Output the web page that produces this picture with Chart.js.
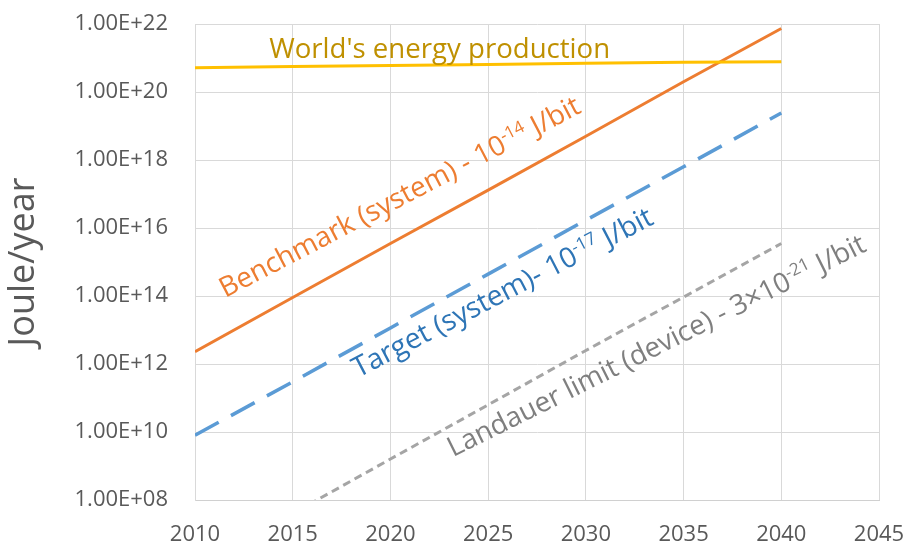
<!DOCTYPE html>
<html>
<head>
<meta charset="utf-8">
<script src="https://cdn.jsdelivr.net/npm/chart.js@4/dist/chart.umd.min.js"></script>
<style>
  html, body { margin: 0; padding: 0; background: #fff; }
  #wrap { width: 918px; height: 558px; }
</style>
</head>
<body>
<div id="wrap"><canvas id="chart" width="918" height="558"></canvas></div>
<script>
// values (Joule/year, log scale)
const years = [2010, 2015, 2020, 2025, 2030, 2035, 2040];
const worldEnergy = [5.2e20, 5.6e20, 6.0e20, 6.4e20, 7.0e20, 7.5e20, 7.8e20];
const benchmark = [2.3e12, 9.0e13, 3.5e15, 1.3e17, 5.0e18, 2.0e20, 7.4e21];
const target = [8.0e9, 3.0e11, 1.15e13, 4.4e14, 1.7e16, 6.3e17, 2.4e19];
const landauer = [1.1e6, 4.0e7, 1.6e9, 6.3e10, 2.5e12, 9.3e13, 3.5e15];

const yTicks = [1e8, 1e10, 1e12, 1e14, 1e16, 1e18, 1e20, 1e22];
const xTicks = [2010, 2015, 2020, 2025, 2030, 2035, 2040, 2045];

// in-plot labels (anchored in data units, text fitted to a width)
const notes = [
    { parts: [{ text: "World's energy production" }],
      x: 2013.8, y: 1e21, width: 341, angle: 0, color: '#BF9000' },
    { parts: [{ text: 'Benchmark (system) - 10' }, { text: '-14', sup: true }, { text: ' J/bit' }],
      x: 2011.55, y: 8.7e13, width: 403, angle: 27.5, color: '#ED7D31' },
    { parts: [{ text: 'Target (system)- 10' }, { text: '-17', sup: true }, { text: ' J/bit' }],
      x: 2018.35, y: 3.9e11, width: 335, angle: 27.5, color: '#2E75B6' },
    { parts: [{ text: 'Landauer limit (device) - 3\u00D710' }, { text: '-21', sup: true }, { text: ' J/bit' }],
      x: 2023.2, y: 1.8e9, width: 464, angle: 26.5, color: '#7F7F7F' }
];

const FONT = '"Open Sans", "Noto Sans", sans-serif';

function sciLabel(v) {
    const e = Math.round(Math.log10(v));
    const m = v / Math.pow(10, e);
    return m.toFixed(2) + 'E+' + String(e).padStart(2, '0');
}

function pairs(ys) {
    return years.map((yr, i) => ({ x: yr, y: ys[i] }));
}

const notesPlugin = {
    id: 'notes',
    afterDatasetsDraw(chart) {
        const ctx = chart.ctx;
        const xs = chart.scales.x, ys = chart.scales.y;
        notes.forEach(n => {
            const base = 24;
            const widthAt = s => n.parts.reduce((w, p) => {
                ctx.font = (p.sup ? s * 0.62 : s) + 'px ' + FONT;
                return w + ctx.measureText(p.text).width;
            }, 0);
            const s = base * n.width / widthAt(base);
            ctx.save();
            ctx.translate(xs.getPixelForValue(n.x), ys.getPixelForValue(n.y));
            ctx.rotate(-n.angle * Math.PI / 180);
            ctx.fillStyle = n.color;
            ctx.textAlign = 'left';
            ctx.textBaseline = 'alphabetic';
            let cx = 0;
            n.parts.forEach(p => {
                const fs = p.sup ? s * 0.62 : s;
                ctx.font = fs + 'px ' + FONT;
                ctx.fillText(p.text, cx, p.sup ? -s * 0.36 : 0);
                cx += ctx.measureText(p.text).width;
            });
            ctx.restore();
        });
    }
};

const ctx = document.getElementById('chart').getContext('2d');
new Chart(ctx, {
    type: 'line',
    data: {
        datasets: [
            {
                label: "World's energy production",
                data: pairs(worldEnergy),
                borderColor: '#FFC000',
                borderWidth: 3
            },
            {
                label: 'Benchmark (system)',
                data: pairs(benchmark),
                borderColor: '#ED7D31',
                borderWidth: 3
            },
            {
                label: 'Target (system)',
                data: pairs(target),
                borderColor: '#5B9BD5',
                borderWidth: 3.5,
                borderDash: [27, 14]
            },
            {
                label: 'Landauer limit (device)',
                data: pairs(landauer),
                borderColor: '#A5A5A5',
                borderWidth: 3,
                borderDash: [8, 5]
            }
        ]
    },
    options: {
        responsive: false,
        animation: false,
        layout: { padding: { left: 0, right: 39, top: 24, bottom: 0 } },
        elements: { point: { radius: 0 }, line: { tension: 0, borderCapStyle: 'butt' } },
        plugins: {
            legend: { display: false },
            tooltip: { enabled: false }
        },
        scales: {
            x: {
                type: 'linear',
                min: 2010,
                max: 2045,
                afterBuildTicks: scale => { scale.ticks = xTicks.map(v => ({ value: v })); },
                afterFit: scale => {
                    scale.height = 58;
                    scale.paddingLeft = 0;
                    scale.paddingRight = 0;
                },
                grid: { color: '#D9D9D9', lineWidth: 1, drawTicks: false },
                border: { color: '#D0D0D0', width: 1 },
                ticks: {
                    padding: 22,
                    color: '#595959',
                    font: { family: FONT, size: 22 },
                    maxRotation: 0,
                    callback: v => String(v)
                }
            },
            y: {
                type: 'logarithmic',
                min: 1e8,
                max: 1e22,
                afterBuildTicks: scale => { scale.ticks = yTicks.map(v => ({ value: v })); },
                afterFit: scale => {
                    scale.width = 195;
                    scale.paddingTop = 0;
                    scale.paddingBottom = 0;
                },
                grid: { color: '#D9D9D9', lineWidth: 1, drawTicks: false },
                border: { color: '#D9D9D9', width: 1 },
                title: {
                    display: true,
                    text: 'Joule/year',
                    color: '#595959',
                    font: { family: FONT, size: 36 },
                    padding: { top: 2, bottom: 0 }
                },
                ticks: {
                    padding: 27,
                    color: '#595959',
                    font: { family: FONT, size: 22 },
                    callback: v => sciLabel(v)
                }
            }
        }
    },
    plugins: [notesPlugin]
});
</script>
</body>
</html>
